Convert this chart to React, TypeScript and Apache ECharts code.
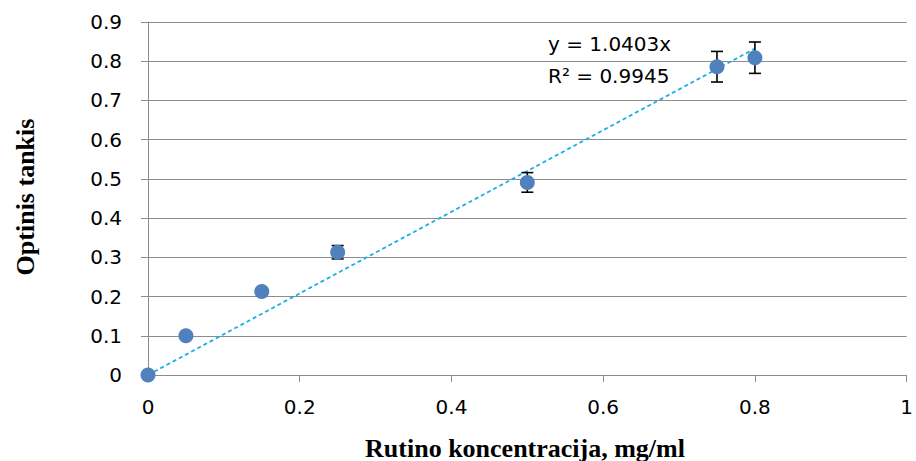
import React, { useEffect, useRef } from "react";
import * as echarts from "echarts";

const xValues = [0, 0.05, 0.15, 0.25, 0.5, 0.75, 0.8];
const yValues = [0, 0.1, 0.213, 0.313, 0.491, 0.786, 0.809];
const yErrors = [0, 0, 0, 0.017, 0.025, 0.039, 0.04];
const slope = 1.0403;
const trendRange = [0, 0.8];
const equationText = "y = 1.0403x";
const r2Text = "R² = 0.9945";
const xTitle = "Rutino koncentracija, mg/ml";
const yTitle = "Optinis tankis";

export default function App() {
  const ref = useRef<HTMLDivElement>(null);
  useEffect(() => {
    document.body.style.margin = "0";
    const chart = echarts.init(ref.current!, null, { renderer: "svg" });
    const points = xValues.map((x, i) => [x, yValues[i]]);
    const errData = xValues
      .map((x, i) => [x, yValues[i] - yErrors[i], yValues[i] + yErrors[i]])
      .filter((d, i) => yErrors[i] > 0);
    const trend = trendRange.map((x) => [x, slope * x]);
    const sans = "'DejaVu Sans', sans-serif";
    const serif = "'Liberation Serif', 'Times New Roman', serif";
    chart.setOption({
      animation: false,
      backgroundColor: "#ffffff",
      grid: { left: 148, right: 8, top: 22, bottom: 86 },
      xAxis: {
        type: "value",
        min: 0,
        max: 1,
        interval: 0.2,
        axisLine: { show: true, lineStyle: { color: "#8c8c8c", width: 1 } },
        axisTick: { show: true, length: 7, lineStyle: { color: "#8c8c8c" } },
        axisLabel: { fontFamily: sans, fontSize: 20, color: "#000", margin: 22 },
        splitLine: { show: false },
      },
      yAxis: {
        type: "value",
        min: 0,
        max: 0.9,
        interval: 0.1,
        axisLine: { show: true, lineStyle: { color: "#8c8c8c", width: 1 } },
        axisTick: { show: true, length: 7, lineStyle: { color: "#8c8c8c" } },
        axisLabel: {
          fontFamily: sans,
          fontSize: 20,
          color: "#000",
          margin: 26,
          formatter: (v: number) => String(Math.round(v * 10) / 10),
        },
        splitLine: { show: true, lineStyle: { color: "#8c8c8c", width: 1 } },
      },
      series: [
        {
          type: "line",
          data: trend,
          symbol: "none",
          lineStyle: { color: "#1aaee8", width: 1.8, type: [4, 3] },
          z: 3,
        },
        {
          type: "custom",
          data: errData,
          z: 4,
          renderItem: (params: any, api: any) => {
            const x = api.value(0);
            const lo = api.coord([x, api.value(1)]);
            const hi = api.coord([x, api.value(2)]);
            const half = 6;
            const style = { stroke: "#000", lineWidth: 1.6 };
            return {
              type: "group",
              children: [
                { type: "line", shape: { x1: lo[0], y1: lo[1], x2: hi[0], y2: hi[1] }, style },
                { type: "line", shape: { x1: lo[0] - half, y1: lo[1], x2: lo[0] + half, y2: lo[1] }, style },
                { type: "line", shape: { x1: hi[0] - half, y1: hi[1], x2: hi[0] + half, y2: hi[1] }, style },
              ],
            };
          },
        },
        {
          type: "scatter",
          data: points,
          symbol: "circle",
          symbolSize: 15,
          itemStyle: { color: "#4f81bd", opacity: 1 },
          z: 5,
        },
      ],
      graphic: [
        { type: "text", x: 548, y: 34, style: { text: equationText, font: `20px ${sans}`, fill: "#000" } },
        { type: "text", x: 548, y: 66, style: { text: r2Text, font: `20px ${sans}`, fill: "#000" } },
        {
          type: "text",
          x: 525,
          y: 448,
          style: { text: xTitle, font: `bold 26px ${serif}`, fill: "#000", align: "center", verticalAlign: "middle" },
        },
        {
          type: "text",
          x: 25,
          y: 197,
          rotation: Math.PI / 2,
          style: { text: yTitle, font: `bold 26px ${serif}`, fill: "#000", align: "center", verticalAlign: "middle" },
        },
      ],
    });
    return () => chart.dispose();
  }, []);
  return <div ref={ref} style={{ width: 916, height: 461 }} />;
}
